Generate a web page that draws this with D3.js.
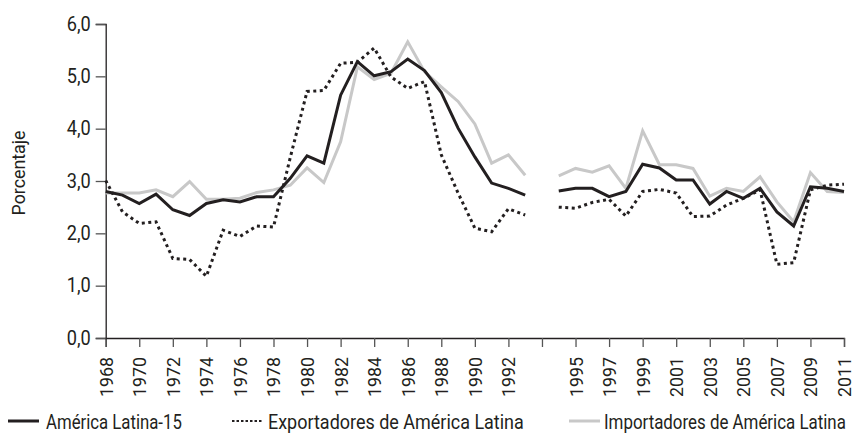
<!DOCTYPE html>
<html>
<head>
<meta charset="utf-8">
<script src="https://cdn.jsdelivr.net/npm/d3@7.9.0/dist/d3.min.js"></script>
<style>
  body { margin: 0; background: #fff; }
  svg text { font-family: "Roboto", "Liberation Sans", sans-serif; fill: #231f20; }
</style>
</head>
<body>
<svg id="chart" width="855" height="442"></svg>
<script>
// periods (the chart leaves a blank slot between 1993 and 1994)
const years1 = [1968, 1969, 1970, 1971, 1972, 1973, 1974, 1975, 1976, 1977, 1978, 1979, 1980,
  1981, 1982, 1983, 1984, 1985, 1986, 1987, 1988, 1989, 1990, 1991, 1992, 1993];
const years2 = [1994, 1995, 1996, 1997, 1998, 1999, 2000, 2001, 2002, 2003, 2004, 2005, 2006,
  2007, 2008, 2009, 2010, 2011];

// América Latina-15
const al15_1 = [2.80, 2.73, 2.57, 2.75, 2.45, 2.34, 2.57, 2.64, 2.60, 2.70, 2.70, 3.05, 3.48,
  3.34, 4.64, 5.28, 5.01, 5.09, 5.33, 5.11, 4.69, 4.01, 3.46, 2.96, 2.86, 2.73];
const al15_2 = [2.81, 2.86, 2.86, 2.70, 2.80, 3.32, 3.25, 3.02, 3.02, 2.56, 2.80, 2.67, 2.86,
  2.41, 2.14, 2.89, 2.86, 2.80];

// Exportadores de América Latina
const expo_1 = [3.01, 2.41, 2.19, 2.22, 1.52, 1.50, 1.18, 2.06, 1.94, 2.14, 2.12, 3.45, 4.71,
  4.73, 5.25, 5.27, 5.54, 4.99, 4.77, 4.90, 3.50, 2.77, 2.10, 2.03, 2.47, 2.35];
const expo_2 = [2.50, 2.48, 2.59, 2.65, 2.33, 2.80, 2.84, 2.77, 2.32, 2.33, 2.54, 2.67, 2.83,
  1.41, 1.44, 2.83, 2.92, 2.94];

// Importadores de América Latina
const impo_1 = [2.77, 2.77, 2.77, 2.83, 2.70, 2.99, 2.65, 2.65, 2.67, 2.78, 2.83, 2.92, 3.25,
  2.97, 3.75, 5.18, 4.94, 5.06, 5.66, 5.09, 4.80, 4.52, 4.09, 3.34, 3.50, 3.11];
const impo_2 = [3.10, 3.24, 3.17, 3.29, 2.86, 3.96, 3.31, 3.31, 3.24, 2.71, 2.86, 2.80, 3.08,
  2.60, 2.22, 3.16, 2.80, 2.78];

const yTicks = [0, 1, 2, 3, 4, 5, 6];
const legendLabels = ['América Latina-15', 'Exportadores de América Latina', 'Importadores de América Latina'];

const margin = { top: 24, right: 11, bottom: 104, left: 105.7 };
const width = 855, height = 442;
const svg = d3.select('#chart');

const slots = [...years1.map(String), 'gap', ...years2.map(String)];
const x = d3.scalePoint().domain(slots).range([margin.left, width - margin.right]);
const y = d3.scaleLinear().domain([0, 6]).range([height - margin.bottom, margin.top]);

const fmt = (d) => d3.format('.1f')(d).replace('.', ',');

// x axis: a tick every second slot; the gap slot has a tick but no label
const xTickVals = slots.filter((d, i) => i % 2 === 0);
const xAxis = svg.append('g')
  .attr('transform', `translate(0,${y(0)})`)
  .call(d3.axisBottom(x).tickValues(xTickVals).tickSize(9).tickPadding(4)
    .tickFormat((d) => (d === 'gap' ? '' : d)));
xAxis.select('.domain').attr('stroke', '#231f20').attr('stroke-width', 1.3);
xAxis.selectAll('.tick line').attr('stroke', '#555').attr('stroke-width', 1.3);
xAxis.selectAll('.tick text')
  .attr('font-size', 18)
  .attr('transform', 'rotate(-90)')
  .attr('text-anchor', 'end')
  .attr('dy', '0.36em')
  .attr('x', -19)
  .attr('y', 0)
  .filter((d) => d !== 'gap')
  .attr('textLength', 40)
  .attr('lengthAdjust', 'spacingAndGlyphs');

const yAxis = svg.append('g')
  .attr('transform', `translate(${margin.left},0)`)
  .call(d3.axisLeft(y).tickValues(yTicks).tickSize(10).tickPadding(5).tickFormat(fmt));
yAxis.select('.domain').attr('stroke', '#231f20').attr('stroke-width', 1.3);
yAxis.selectAll('.tick line').attr('stroke', '#555').attr('stroke-width', 1.3);
yAxis.selectAll('.tick text')
  .attr('font-size', 19.5)
  .attr('textLength', 24)
  .attr('lengthAdjust', 'spacingAndGlyphs');

svg.append('text')
  .attr('transform', 'translate(25,173) rotate(-90)')
  .attr('text-anchor', 'middle')
  .attr('font-size', 17.5)
  .attr('textLength', 85)
  .attr('lengthAdjust', 'spacingAndGlyphs')
  .text('Porcentaje');

const line = d3.line()
  .x((d) => x(String(d[0])))
  .y((d) => y(d[1]));

const series = [
  { parts: [[years1, impo_1], [years2, impo_2]], color: '#c8c8c8', dash: null },
  { parts: [[years1, expo_1], [years2, expo_2]], color: '#231f20', dash: '3,3.5' },
  { parts: [[years1, al15_1], [years2, al15_2]], color: '#231f20', dash: null },
];

series.forEach((s) => {
  s.parts.forEach(([yrs, vals]) => {
    svg.append('path')
      .datum(yrs.map((yr, i) => [yr, vals[i]]))
      .attr('fill', 'none')
      .attr('stroke', s.color)
      .attr('stroke-width', 3)
      .attr('stroke-dasharray', s.dash)
      .attr('stroke-linejoin', 'miter')
      .attr('d', line);
  });
});

// legend - text squeezed horizontally to look like the condensed original
const legendItems = [
  { label: legendLabels[0], color: '#231f20', dash: null, x0: 8, tx: 46, len: 136 },
  { label: legendLabels[1], color: '#231f20', dash: '2.5,2', x0: 232, tx: 268, len: 256 },
  { label: legendLabels[2], color: '#c8c8c8', dash: null, x0: 569, tx: 604, len: 242 },
];
const legend = svg.append('g').attr('transform', 'translate(0,421)');
legendItems.forEach((d) => {
  legend.append('line')
    .attr('x1', d.x0).attr('x2', d.x0 + 31)
    .attr('y1', 0).attr('y2', 0)
    .attr('stroke', d.color)
    .attr('stroke-width', d.dash ? 2 : 3)
    .attr('stroke-dasharray', d.dash);
  const t = legend.append('text')
    .attr('font-size', 20)
    .text(d.label);
  const k = d.len / t.node().getComputedTextLength();
  t.attr('transform', `translate(${d.tx},7.5) scale(${k},1)`);
});
</script>
</body>
</html>
